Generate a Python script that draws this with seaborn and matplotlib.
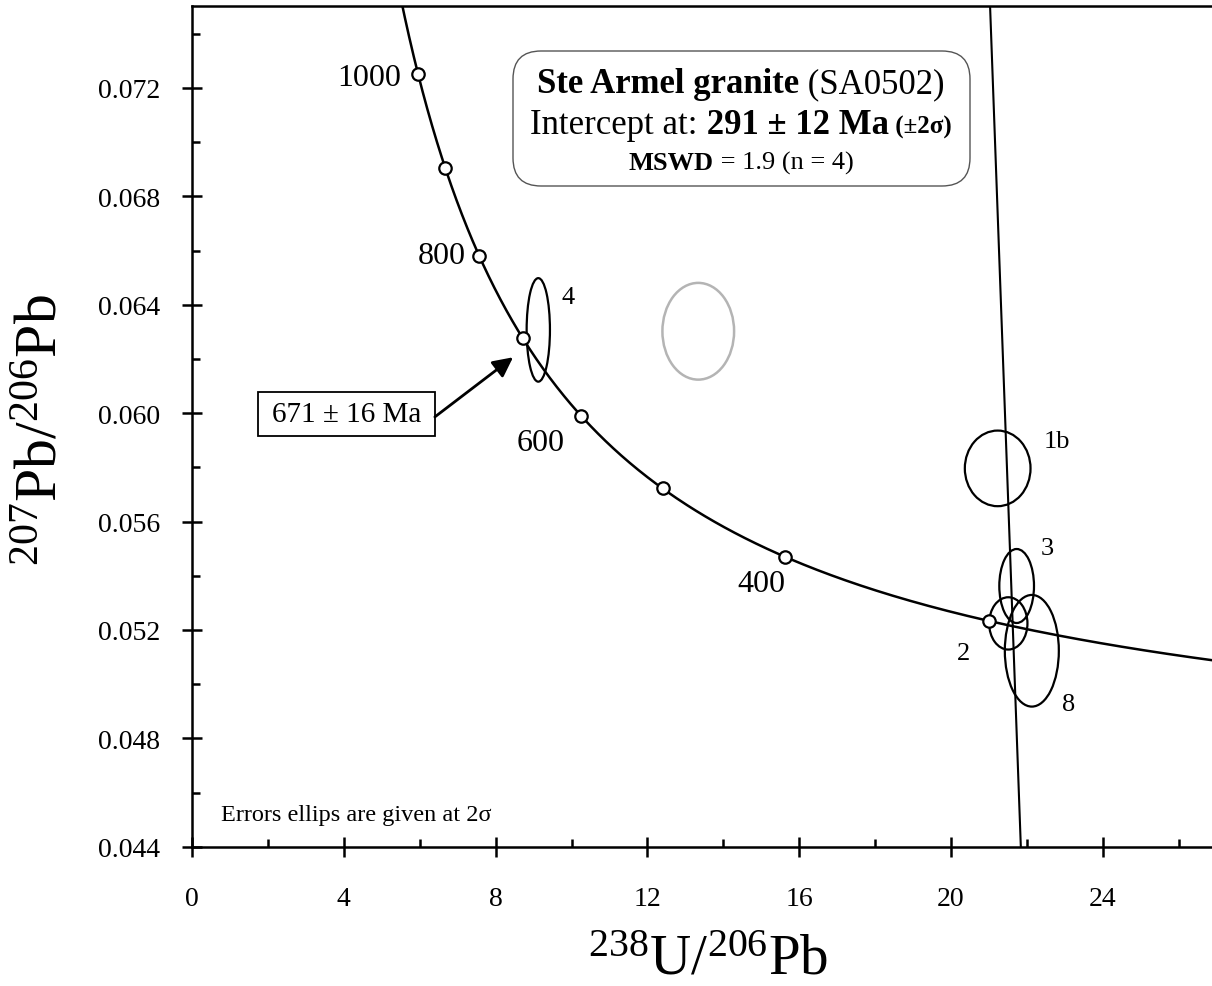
import numpy as np
import seaborn as sns
import matplotlib.pyplot as plt
from matplotlib.patches import Ellipse, Rectangle, FancyBboxPatch
from matplotlib.transforms import IdentityTransform
from matplotlib.ticker import MultipleLocator, FormatStrFormatter

# concordia ages marked with circles (Ma) and the ones that carry a label
tick_ages = [300, 400, 500, 600, 700, 800, 900, 1000]
labelled_ages = [400, 600, 800, 1000]

# zircon analyses, 2 sigma error ellipses (238U/206Pb, 207Pb/206Pb)
spots = ['4', '1b', '3', '2', '8']
spot_x = [9.125, 21.23, 21.73, 21.51, 22.13]
spot_y = [0.06307, 0.05796, 0.05362, 0.05224, 0.05123]
spot_w = [0.614, 1.731, 0.914, 1.009, 1.423]
spot_h = [0.00382, 0.00279, 0.00273, 0.00193, 0.00412]

# analysis left out of the regression (grey)
excluded_x = [13.34]
excluded_y = [0.06302]
excluded_w = [1.889]
excluded_h = [0.00357]

# regression line (ends read at the frame)
discordia_x = [21.03, 21.84]
discordia_y = [0.0750, 0.0440]

# decay constants for the Tera-Wasserburg concordia
L238 = 1.55125e-10
L235 = 9.8485e-10
U_RATIO = 137.88


def tera_wasserburg(age_ma):
    t = np.asarray(age_ma, dtype=float) * 1e6
    e8 = np.expm1(L238 * t)
    e5 = np.expm1(L235 * t)
    return 1 / e8, e5 / e8 / U_RATIO


sns.set_style('white')
plt.rcParams['font.family'] = ['Liberation Serif', 'DejaVu Serif']
plt.rcParams['mathtext.fontset'] = 'custom'
plt.rcParams['mathtext.rm'] = 'Liberation Serif'
plt.rcParams['mathtext.default'] = 'regular'
for key in ['text.color', 'axes.labelcolor', 'xtick.color', 'ytick.color', 'axes.edgecolor']:
    plt.rcParams[key] = 'black'

W, H = 1212, 987
fig = plt.figure(figsize=(W / 100, H / 100), dpi=100)
ax = fig.add_axes([192 / W, 1 - 847.7 / H, 1020 / W, (847.7 - 7.3) / H])

# concordia curve
curve_ages = np.arange(200, 1200, 2)
cx, cy = tera_wasserburg(curve_ages)
sns.lineplot(x=cx, y=cy, sort=False, estimator=None, color='black', linewidth=1.8, ax=ax)

# discordia
sns.lineplot(x=discordia_x, y=discordia_y, sort=False, estimator=None,
             color='black', linewidth=1.5, ax=ax)

# age marks
mx, my = tera_wasserburg(tick_ages)
sns.scatterplot(x=mx, y=my, s=80, color='white', edgecolor='black',
                linewidth=1.6, zorder=5, ax=ax)

label_offsets = {400: (-23, -27, 'center'), 600: (-40, -27, 'center'),
                 800: (-13, 0, 'right'), 1000: (-17, -3, 'right')}
for age in labelled_ages:
    ax_, ay_ = tera_wasserburg(age)
    dx, dy, ha = label_offsets[age]
    ax.annotate(str(age), (ax_, ay_), xytext=(dx, dy), textcoords='offset pixels',
                ha=ha, va='center', fontsize=23)

# error ellipses
for x, y, w, h in zip(spot_x, spot_y, spot_w, spot_h):
    ax.add_patch(Ellipse((x, y), w, h, fill=False, edgecolor='black', linewidth=1.6, zorder=4))
for x, y, w, h in zip(excluded_x, excluded_y, excluded_w, excluded_h):
    ax.add_patch(Ellipse((x, y), w, h, fill=False, edgecolor='#b4b4b4', linewidth=1.8, zorder=4))

spot_offsets = {'4': (30, 33), '1b': (59, 27), '3': (31, 38), '2': (-45, -30), '8': (37, -53)}
for name, x, y in zip(spots, spot_x, spot_y):
    ax.annotate(name, (x, y), xytext=spot_offsets[name], textcoords='offset pixels',
                ha='center', va='center', fontsize=19)

# upper intercept label
ax.add_patch(Rectangle((1.74, 0.059155), 4.66, 0.001624, fill=False,
                       edgecolor='black', linewidth=1.3, zorder=6))
ax.text(4.07, 0.05997, '671 ± 16 Ma', ha='center', va='center', fontsize=21, zorder=7)
ax.annotate('', xy=(8.46, 0.06206), xytext=(6.40, 0.05986),
            arrowprops=dict(arrowstyle='-|>', color='black', lw=2, mutation_scale=30,
                            shrinkA=0, shrinkB=0))

ax.text(0.77, 0.0450, 'Errors ellips are given at 2σ', ha='left', va='baseline', fontsize=17.5)

# axes
ax.set_xlim(0, 1020 / 37.95)
ax.set_ylim(0.044, 0.044 + 840.4 / 27100)
ax.xaxis.set_major_locator(MultipleLocator(4))
ax.xaxis.set_minor_locator(MultipleLocator(2))
ax.yaxis.set_major_locator(MultipleLocator(0.004))
ax.yaxis.set_minor_locator(MultipleLocator(0.002))
ax.xaxis.set_major_formatter(FormatStrFormatter('%d'))
ax.yaxis.set_major_formatter(FormatStrFormatter('%.3f'))
ax.tick_params(which='both', bottom=True, left=True, top=False, right=False)
ax.tick_params(which='major', direction='inout', length=14.4, width=1.8,
               labelsize=20, colors='black')
ax.tick_params(axis='y', which='major', pad=16)
ax.tick_params(axis='x', which='major', pad=21)
ax.tick_params(which='minor', direction='in', length=5.8, width=1.8, colors='black')
ax.spines['right'].set_visible(False)
for side in ['left', 'bottom', 'top']:
    ax.spines[side].set_linewidth(1.8)
    ax.spines[side].set_color('black')
ax.set_xlabel('')
ax.set_ylabel('')

fig.text(708 / W, 1 - 975 / H, '$^{238}$U/$^{206}$Pb', ha='center', va='baseline', fontsize=41)
fig.text(57 / W, 1 - 430 / H, '$^{207}$Pb/$^{206}$Pb', ha='center', va='baseline',
         rotation=90, rotation_mode='anchor', fontsize=43)

# result box
fig.patches.append(FancyBboxPatch((513, H - 187), 457, 135,
                                  boxstyle='round,pad=0,rounding_size=28',
                                  transform=IdentityTransform(), facecolor='white',
                                  edgecolor='#555555', linewidth=1.0, figure=fig))

renderer = fig.canvas.get_renderer()


def put_runs(runs, center_px, baseline_px):
    texts = [fig.text(0, 1 - baseline_px / H, s, fontsize=fs, fontweight=wt,
                      ha='left', va='baseline') for s, fs, wt in runs]
    widths = [t.get_window_extent(renderer).width for t in texts]
    x = center_px - sum(widths) / 2
    for t, w in zip(texts, widths):
        t.set_x(x / W)
        x += w


put_runs([('Ste Armel granite', 25, 'bold'), (' (SA0502)', 25, 'normal')], 741, 93)
put_runs([('Intercept at:', 25, 'normal'), (' 291 ± 12 Ma', 25, 'bold'),
          (' (±2σ)', 18, 'bold')], 741, 134)
put_runs([('MSWD', 19, 'bold'), (' = 1.9 (n = 4)', 19, 'normal')], 741, 170)

fig.savefig('out.png', dpi=100)
